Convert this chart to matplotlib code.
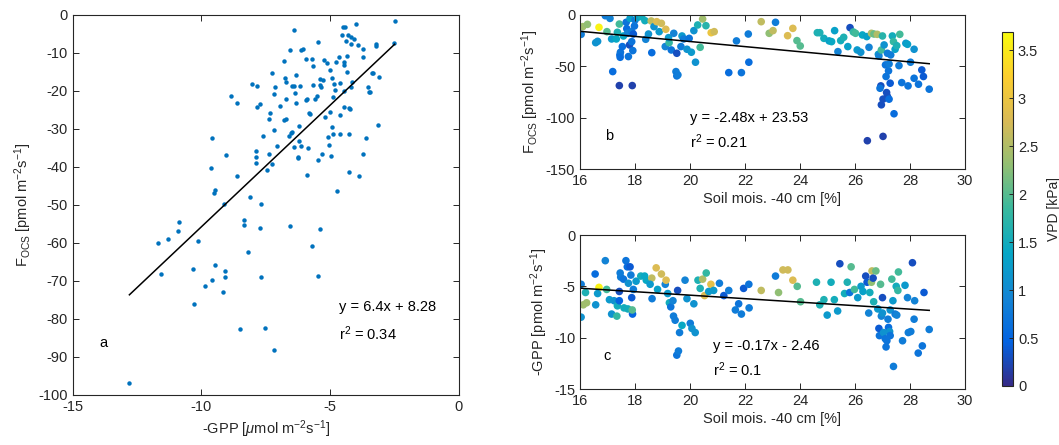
import numpy as np
import matplotlib
matplotlib.use('Agg')
from matplotlib import pyplot as plt
from matplotlib.colors import LinearSegmentedColormap, Normalize
from matplotlib.cm import ScalarMappable

plt.rcParams['font.family'] = ['Liberation Sans', 'DejaVu Sans']
plt.rcParams['font.size'] = 10
plt.rcParams['mathtext.fontset'] = 'custom'
plt.rcParams['mathtext.rm'] = 'Liberation Sans'
plt.rcParams['mathtext.it'] = 'Liberation Sans:italic'
plt.rcParams['mathtext.default'] = 'regular'
plt.rcParams['axes.unicode_minus'] = False

# panel a: -GPP vs F_OCS
gpp_a = [-12.8, -11.67, -11.58, -11.29, -10.92, -10.87, -10.15, -10.32, -10.30, -9.85,
         -9.60, -9.58, -9.62, -9.49, -9.53, -9.49, -9.11, -9.10, -9.09, -9.15,
         -9.06, -8.84, -8.63, -8.62, -8.49, -8.36, -8.36, -8.19, -8.10, -8.04,
         -7.86, -7.83, -7.71, -7.87, -7.88, -7.87, -7.69, -7.71, -7.67, -7.61,
         -7.54, -7.45, -7.39, -7.38, -7.34, -7.26, -7.26, -7.20, -7.18, -7.17,
         -7.14, -7.07, -6.95, -6.81, -6.81, -6.76, -6.73, -6.72, -6.71, -6.61,
         -6.58, -6.55, -6.52, -6.50, -6.48, -6.42, -6.42, -6.39, -6.37, -6.33,
         -6.32, -6.27, -6.24, -6.21, -6.21, -6.16, -6.15, -6.13, -6.06, -5.96,
         -5.95, -5.90, -5.89, -5.86, -5.83, -5.80, -5.70, -5.70, -5.67, -5.66,
         -5.61, -5.52, -5.46, -5.46, -5.46, -5.41, -5.38, -5.38, -5.35, -5.32,
         -5.27, -5.24, -5.20, -5.11, -5.09, -5.04, -5.02, -5.01, -4.97, -4.94,
         -4.93, -4.90, -4.89, -4.85, -4.81, -4.79, -4.75, -4.65, -4.62, -4.62,
         -4.61, -4.54, -4.52, -4.48, -4.47, -4.47, -4.45, -4.44, -4.39, -4.36,
         -4.36, -4.32, -4.28, -4.27, -4.27, -4.25, -4.21, -4.20, -4.20, -4.16,
         -4.07, -4.01, -3.92, -3.90, -3.73, -3.73, -3.74, -3.61, -3.53, -3.49,
         -3.45, -3.39, -3.34, -3.24, -3.24, -3.13, -3.09, -2.50, -2.51]
focs_a = [-96.8, -60.1, -68.2, -59.0, -56.9, -54.5, -59.5, -66.8, -76.1, -71.4,
          -69.7, -32.4, -40.2, -46.1, -46.9, -65.7, -49.7, -67.5, -68.9, -72.8,
          -36.9, -21.2, -42.3, -23.3, -82.6, -53.9, -55.4, -62.5, -48.0, -18.2,
          -18.8, -24.1, -23.4, -35.8, -37.4, -38.9, -49.8, -56.1, -68.9, -31.9,
          -82.3, -40.9, -27.5, -36.5, -25.9, -15.2, -39.2, -88.2, -30.2, -20.8,
          -19.0, -34.6, -24.0, -12.2, -27.6, -16.5, -27.3, -17.6, -22.2, -31.8,
          -55.6, -9.2, -31.1, -18.7, -30.9, -34.8, -18.7, -3.9, -20.5, -15.7,
          -23.2, -37.7, -37.4, -33.1, -29.3, -18.6, -34.5, -9.2, -9.0, -11.7,
          -22.5, -22.2, -42.0, -35.0, -25.7, -26.0, -60.7, -11.5, -13.4, -18.5,
          -22.0, -21.2, -7.1, -38.2, -68.8, -16.8, -56.2, -18.5, -18.9, -36.6,
          -17.2, -11.9, -26.8, -12.7, -32.0, -34.3, -14.6, -25.6, -37.2, -16.7,
          -29.4, -21.5, -31.3, -18.3, -19.7, -12.5, -46.3, -11.0, -17.8, -26.2,
          -31.3, -5.4, -3.2, -12.5, -13.2, -20.0, -24.1, -3.2, -6.8, -14.9,
          -10.8, -5.3, -24.6, -31.4, -41.4, -24.7, -7.6, -5.7, -18.9, -17.6,
          -6.3, -2.5, -7.8, -42.4, -8.9, -11.1, -36.7, -32.4, -19.0, -20.2,
          -20.4, -15.4, -15.2, -7.6, -8.3, -28.9, -16.2, -1.7, -7.5]
fit_a = (6.4, 8.28)

# panel b: soil moisture vs F_OCS, coloured by VPD
soil_b = [16.04, 16.10, 16.27, 16.69, 16.57, 16.64, 16.92, 16.98, 17.09, 17.15,
          17.19, 17.32, 17.36, 17.43, 17.45, 17.47, 17.46, 17.43, 17.54, 17.58,
          17.68, 17.70, 17.73, 17.76, 17.80, 17.82, 17.88, 17.90, 17.88, 17.92,
          17.94, 17.98, 18.00, 18.10, 18.24, 18.36, 18.39, 18.49, 18.59, 18.61,
          18.69, 18.79, 18.88, 18.96, 19.10, 19.12, 19.24, 19.22, 19.32, 19.41,
          19.49, 19.52, 19.52, 19.56, 19.67, 19.71, 19.77, 19.89, 19.97, 20.05,
          20.14, 20.20, 20.28, 20.37, 20.46, 20.58, 20.77, 20.88, 21.41, 21.69,
          21.87, 22.12, 22.14, 22.59, 23.11, 22.88, 23.02, 23.55, 23.74, 23.89,
          24.01, 24.63, 24.72, 24.87, 25.06, 25.15, 25.26, 25.38, 25.48, 25.59,
          25.74, 25.82, 25.94, 26.02, 26.08, 26.21, 26.27, 26.43, 26.51, 26.60,
          26.69, 26.81, 26.85, 26.87, 26.96, 27.00, 26.94, 26.91, 26.96, 27.02,
          27.02, 26.45, 27.06, 27.11, 27.13, 27.18, 27.15, 27.18, 27.24, 27.22,
          27.24, 27.28, 27.30, 27.36, 27.40, 27.42, 27.46, 27.52, 27.60, 27.63,
          27.70, 27.85, 27.91, 27.93, 28.02, 28.15, 28.15, 28.31, 28.43, 28.49,
          28.70]
focs_b = [-19.1, -11.6, -9.4, -12.3, -27.2, -25.9, -1.0, -16.5, -3.6, -23.6,
          -55.3, -23.6, -17.1, -9.1, -39.1, -36.5, -41.4, -68.9, -31.0, -20.7,
          -7.4, -13.6, -18.1, -40.7, -29.4, -3.6, -16.5, -68.9, -26.2, -34.9,
          -18.8, -11.0, -5.2, -2.6, -1.9, -5.8, -23.9, -18.8, -6.1, -36.9,
          -11.6, -6.8, -16.5, -8.4, -31.0, -14.2, -27.2, -22.3, -34.3, -18.1,
          -55.3, -59.5, -37.5, -58.5, -31.0, -20.7, -23.6, -33.6, -23.0, -36.5,
          -15.5, -46.2, -10.0, -31.7, -4.2, -10.7, -17.5, -16.5, -56.3, -25.5,
          -56.3, -18.8, -46.2, -6.8, -7.4, -18.1, -15.5, -20.4, -13.3, -25.2,
          -30.4, -17.5, -17.5, -23.0, -25.5, -26.2, -15.5, -35.9, -25.2, -22.0,
          -31.0, -12.6, -16.8, -18.1, -34.3, -36.5, -19.7, -21.3, -31.7, -18.1,
          -18.8, -19.1, -38.5, -40.1, -34.3, -20.7, -69.2, -71.5, -87.6, -82.1,
          -118.3, -122.5, -29.4, -48.8, -60.1, -37.5, -75.7, -79.5, -82.1, -54.6,
          -47.9, -66.6, -39.1, -20.7, -26.2, -96.3, -33.6, -30.1, -49.5, -19.1,
          -66.0, -27.8, -28.8, -69.2, -46.2, -33.6, -61.8, -67.6, -53.7, -60.1,
          -72.4]
vpd_b = [0.8, 2.4, 2.3, 3.6, 1.1, 1.1, 0.8, 2.0, 0.9, 1.2,
         0.6, 1.4, 1.6, 1.9, 0.6, 0.7, 0.6, 0.2, 0.6, 1.4,
         0.7, 0.6, 0.9, 0.7, 0.3, 1.3, 0.8, 0.2, 0.7, 0.7,
         0.4, 0.7, 0.8, 1.3, 1.5, 1.5, 0.9, 1.1, 2.6, 0.6,
         1.1, 2.8, 1.2, 2.7, 0.9, 2.8, 1.8, 1.2, 0.7, 0.9,
         0.8, 0.7, 0.3, 0.8, 0.8, 1.2, 0.8, 1.1, 0.7, 1.2,
         1.1, 1.1, 1.6, 1.9, 2.4, 1.7, 3.0, 2.7, 0.6, 0.8,
         0.7, 0.8, 0.6, 2.6, 0.8, 2.3, 2.6, 2.8, 2.8, 2.0,
         2.0, 1.6, 1.6, 1.5, 1.3, 1.4, 1.3, 0.9, 1.5, 1.6,
         1.3, 0.3, 1.8, 1.9, 1.2, 1.1, 1.4, 1.3, 0.9, 2.5,
         2.1, 2.5, 1.2, 0.9, 1.9, 1.7, 0.3, 0.7, 0.3, 0.3,
         0.2, 0.2, 1.1, 0.7, 0.7, 0.8, 0.3, 0.3, 0.6, 0.7,
         0.8, 0.4, 0.8, 1.5, 1.8, 0.6, 1.3, 1.6, 0.8, 1.9,
         0.7, 1.2, 1.3, 0.7, 0.8, 1.1, 0.7, 0.7, 0.4, 0.4,
         0.7]
fit_b = (-2.48, 23.53)

# panel c: soil moisture vs -GPP, coloured by VPD
soil_c = [16.04, 16.04, 16.12, 16.24, 16.20, 16.55, 16.57, 16.69, 16.64, 16.92,
          16.97, 17.07, 17.15, 17.24, 17.34, 17.36, 17.43, 17.46, 17.43, 17.48,
          17.58, 17.60, 17.67, 17.72, 17.74, 17.76, 17.82, 17.85, 17.88, 17.91,
          17.90, 17.94, 18.04, 18.21, 18.35, 18.41, 18.61, 18.62, 18.55, 18.77,
          18.82, 18.96, 19.10, 19.13, 19.19, 19.25, 19.30, 19.38, 19.40, 19.46,
          19.52, 19.58, 19.55, 19.62, 19.71, 19.82, 19.89, 20.01, 20.07, 20.19,
          20.14, 20.29, 20.37, 20.46, 20.53, 20.59, 20.76, 20.68, 20.86, 21.07,
          21.23, 21.41, 21.65, 21.77, 21.87, 21.95, 22.14, 22.15, 22.59, 23.11,
          23.22, 23.38, 23.56, 23.74, 23.90, 24.02, 24.60, 24.72, 24.87, 24.99,
          25.13, 25.25, 25.37, 25.45, 25.62, 25.72, 25.81, 25.86, 25.98, 26.10,
          26.22, 26.29, 26.39, 26.44, 26.50, 26.54, 26.60, 26.62, 26.66, 26.68,
          26.76, 26.83, 26.87, 26.89, 26.93, 26.96, 27.00, 27.00, 27.04, 27.10,
          27.13, 27.16, 27.20, 27.22, 27.26, 27.28, 27.28, 27.34, 27.38, 27.40,
          27.46, 27.50, 27.56, 27.58, 27.52, 27.73, 27.82, 27.91, 27.94, 28.03,
          28.09, 28.15, 28.17, 28.30, 28.45, 28.51, 28.70]
gpp_c = [-4.8, -8.0, -6.8, -6.6, -5.6, -3.8, -6.8, -5.1, -5.7, -2.5,
         -5.3, -6.3, -7.7, -6.4, -7.9, -6.9, -5.5, -3.7, -6.4, -4.1,
         -4.3, -7.1, -2.5, -3.1, -7.2, -4.7, -3.1, -3.9, -6.1, -7.7,
         -7.3, -5.3, -4.5, -4.0, -4.0, -4.4, -4.2, -6.2, -4.8, -3.2,
         -5.3, -3.8, -4.8, -4.4, -5.7, -6.6, -7.0, -6.4, -7.9, -8.3,
         -11.7, -11.3, -5.4, -9.5, -8.8, -4.4, -6.2, -8.6, -9.1, -9.5,
         -6.7, -4.4, -5.2, -4.3, -5.9, -3.7, -4.8, -5.5, -5.4, -4.7,
         -5.9, -5.4, -7.3, -6.7, -7.7, -5.2, -4.8, -7.1, -5.4, -4.0,
         -5.6, -3.4, -3.4, -4.4, -5.0, -6.5, -4.6, -6.8, -6.3, -7.8,
         -4.6, -6.3, -7.4, -2.8, -5.7, -4.6, -5.6, -3.1, -5.3, -6.1,
         -5.0, -5.5, -4.0, -4.6, -7.6, -5.6, -4.6, -3.5, -4.2, -6.5,
         -3.5, -7.2, -9.1, -9.8, -4.8, -7.9, -6.1, -7.6, -9.5, -10.1,
         -10.9, -10.3, -8.2, -9.0, -9.4, -9.8, -7.3, -4.3, -6.4, -12.8,
         -7.7, -5.0, -5.4, -3.6, -7.8, -10.3, -4.9, -6.1, -9.5, -9.4,
         -2.7, -8.2, -6.4, -11.5, -10.8, -5.6, -9.2]
vpd_c = [0.8, 1.1, 2.4, 2.4, 1.6, 0.6, 1.1, 3.6, 1.2, 0.9,
         1.9, 1.2, 1.1, 1.1, 1.8, 1.5, 0.3, 0.8, 0.5, 0.8,
         0.7, 1.5, 0.7, 0.6, 1.5, 1.1, 0.4, 0.8, 0.4, 0.5,
         2.0, 0.8, 1.2, 1.5, 1.4, 1.4, 2.6, 0.8, 1.2, 2.8,
         1.3, 2.7, 0.9, 2.8, 1.2, 1.5, 0.7, 0.9, 0.8, 0.8,
         0.7, 0.8, 0.3, 0.8, 1.4, 0.9, 1.1, 0.8, 1.1, 1.1,
         1.1, 1.6, 1.6, 2.5, 2.8, 1.8, 2.9, 1.2, 1.2, 0.8,
         0.4, 0.8, 0.8, 0.7, 0.8, 0.4, 0.7, 0.8, 2.6, 0.8,
         2.3, 2.7, 2.7, 2.8, 2.0, 2.0, 1.6, 1.6, 1.6, 1.2,
         1.5, 1.5, 1.2, 0.3, 1.5, 1.6, 0.7, 2.0, 1.9, 1.2,
         1.2, 1.3, 0.3, 0.4, 0.9, 1.5, 2.3, 2.6, 0.3, 1.6,
         2.1, 1.2, 0.4, 0.7, 2.0, 0.9, 0.3, 1.1, 1.1, 0.7,
         0.7, 0.7, 0.8, 0.6, 1.1, 0.7, 1.1, 1.9, 1.2, 0.8,
         0.8, 1.5, 1.8, 1.9, 0.9, 0.8, 1.2, 0.9, 0.8, 0.8,
         0.3, 0.8, 0.9, 0.7, 0.7, 0.4, 0.8]
fit_c = (-0.17, -2.46)

vpd_max = 3.69

# parula-like colormap
parula = LinearSegmentedColormap.from_list('parula', [
    '#352a87', '#0363e1', '#1485d4', '#06a7c6', '#38b99e',
    '#92bf73', '#d9ba56', '#fcce2e', '#f9fb0e'])
norm = Normalize(0, vpd_max)

axcol = '#262626'
fig = plt.figure(figsize=(10.59, 4.45), dpi=100)
ax_a = fig.add_axes([0.0687, 0.1124, 0.3647, 0.854])
ax_b = fig.add_axes([0.5477, 0.6202, 0.3635, 0.3468])
ax_c = fig.add_axes([0.5477, 0.1258, 0.3635, 0.3461])
cax = fig.add_axes([0.9459, 0.1326, 0.0107, 0.7955])


def style(ax):
    ax.tick_params(direction='in', top=True, right=True, length=4, width=0.7,
                   colors=axcol, labelsize=10.5, labelcolor=axcol)
    for s in ax.spines.values():
        s.set_linewidth(0.8)
        s.set_color(axcol)


# panel a
ax_a.plot(gpp_a, focs_a, 'o', color='#0072bd', markersize=3.2, markeredgewidth=0)
xf = np.array([min(gpp_a), max(gpp_a)])
ax_a.plot(xf, fit_a[0] * xf + fit_a[1], color='k', lw=1.1)
ax_a.set_xlim(-15, 0)
ax_a.set_ylim(-100, 0)
ax_a.set_xticks(np.arange(-15, 1, 5))
ax_a.set_yticks(np.arange(-100, 1, 10))
ax_a.set_xlabel(r'-GPP [$\mathit{\mu}$mol m$^{-2}$s$^{-1}$]', color=axcol, fontsize=10.5, labelpad=3)
ax_a.set_ylabel(r'F$_{OCS}$ [pmol m$^{-2}$s$^{-1}$]', color=axcol, fontsize=10.5, labelpad=3)
ax_a.text(-4.65, -76.8, 'y = 6.4x + 8.28', va='center', fontsize=10.5)
ax_a.text(-4.65, -83.8, 'r$^2$ = 0.34', va='center', fontsize=10.5)
ax_a.text(-13.95, -86.4, 'a', va='center', fontsize=10.5)
style(ax_a)

# panel b
ax_b.scatter(soil_b, focs_b, c=vpd_b, cmap=parula, norm=norm, s=30, linewidths=0)
xb = np.array([min(soil_b), max(soil_b)])
ax_b.plot(xb, fit_b[0] * xb + fit_b[1], color='k', lw=1.1)
ax_b.set_xlim(16, 30)
ax_b.set_ylim(-150, 0)
ax_b.set_xticks(np.arange(16, 31, 2))
ax_b.set_yticks([-150, -100, -50, 0])
ax_b.set_xlabel('Soil mois. -40 cm [%]', color=axcol, fontsize=10.5, labelpad=3)
ax_b.set_ylabel(r'F$_{OCS}$ [pmol m$^{-2}$s$^{-1}$]', color=axcol, fontsize=10.5, labelpad=3)
ax_b.text(20.0, -100.5, 'y = -2.48x + 23.53', va='center', fontsize=10.5)
ax_b.text(20.0, -123, 'r$^2$ = 0.21', va='center', fontsize=10.5)
ax_b.text(16.9, -118, 'b', va='center', fontsize=10.5)
style(ax_b)

# panel c
ax_c.scatter(soil_c, gpp_c, c=vpd_c, cmap=parula, norm=norm, s=30, linewidths=0)
xc = np.array([min(soil_c), max(soil_c)])
ax_c.plot(xc, fit_c[0] * xc + fit_c[1], color='k', lw=1.1)
ax_c.set_xlim(16, 30)
ax_c.set_ylim(-15, 0)
ax_c.set_xticks(np.arange(16, 31, 2))
ax_c.set_yticks([-15, -10, -5, 0])
ax_c.set_xlabel('Soil mois. -40 cm [%]', color=axcol, fontsize=10.5, labelpad=3)
ax_c.set_ylabel(r'-GPP [pmol m$^{-2}$s$^{-1}$]', color=axcol, fontsize=10.5, labelpad=3)
ax_c.text(20.84, -10.8, 'y = -0.17x - 2.46', va='center', fontsize=10.5)
ax_c.text(20.84, -13.1, 'r$^2$ = 0.1', va='center', fontsize=10.5)
ax_c.text(16.85, -11.75, 'c', va='center', fontsize=10.5)
style(ax_c)

# colorbar
cb = fig.colorbar(ScalarMappable(norm=norm, cmap=parula), cax=cax)
cb.set_ticks(np.arange(0, 3.6, 0.5))
cb.set_ticklabels(['0', '0.5', '1', '1.5', '2', '2.5', '3', '3.5'])
cb.ax.tick_params(direction='in', length=3, width=0.7, colors=axcol, labelsize=10.5)
cb.outline.set_linewidth(0.8)
cb.outline.set_edgecolor(axcol)
cb.set_label('VPD [kPa]', color=axcol, fontsize=10, labelpad=6)

fig.savefig('out.png', dpi=100)
